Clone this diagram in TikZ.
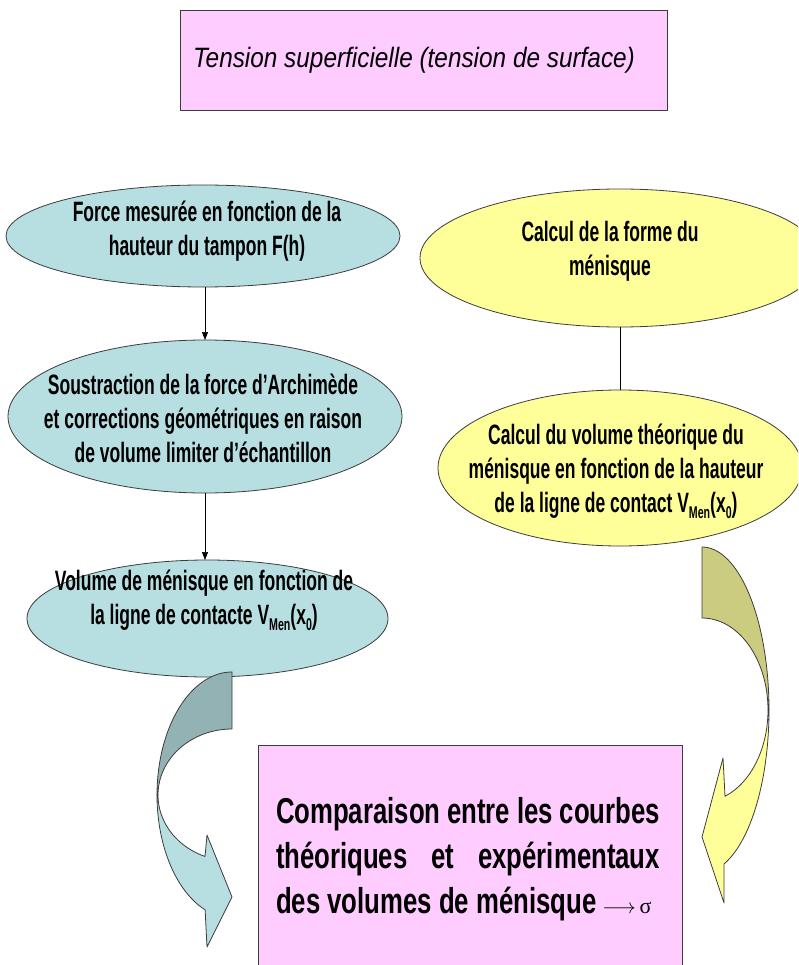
\documentclass[tikz,border=0pt]{standalone}
\usepackage{fontspec}
\usetikzlibrary{shapes.geometric,arrows.meta}
\newfontfamily\ellfont[FakeStretch=0.625]{Liberation Sans}
\newfontfamily\ttlfont[FakeStretch=0.87]{Liberation Sans}
\newfontfamily\cmpfont[FakeStretch=0.715]{Liberation Sans}
\newfontfamily\symfont{Liberation Serif}
\definecolor{pinkbox}{RGB}{255,204,255}
\definecolor{tealell}{RGB}{183,222,225}
\definecolor{tealdark}{RGB}{147,178,180}
\definecolor{yellell}{RGB}{255,255,153}
\definecolor{olivearrow}{RGB}{204,204,128}
\definecolor{edgegray}{RGB}{60,60,60}
\newcommand\lowsub[1]{\raisebox{-6pt}{\fontsize{17}{17}\selectfont #1}}
\begin{document}
\begin{tikzpicture}[x=1pt,y=-1pt,
  boxstyle/.style={draw=edgegray, line width=0.8pt, fill=pinkbox, rectangle, inner sep=0pt, outer sep=0pt},
  ellbox/.style={draw=edgegray, line width=0.8pt, ellipse, inner sep=0pt, outer sep=0pt},
  elltext/.style={align=center, inner sep=0pt, font=\ellfont\bfseries\fontsize{28}{34}\selectfont},
  conn/.style={draw=black, line width=0.6pt},
  connarrow/.style={conn, -{Triangle[length=8pt,width=6pt]}},
  arrowedge/.style={draw=edgegray, line width=0.8pt, line join=round}
]
\clip (0,0) rectangle (798,965);
\useasboundingbox (0,0) rectangle (798,965);
\fill[white] (0,0) rectangle (798,965);

% boxes
\node[boxstyle, minimum width=487pt, minimum height=100pt] (title) at (423.5,60) {};
\node[boxstyle, minimum width=424pt, minimum height=230pt] (cmp) at (470,860) {};

% left ellipses
\node[ellbox, fill=tealell, minimum width=394pt, minimum height=102pt] (e1) at (203,236) {};
\node[ellbox, fill=tealell, minimum width=394pt, minimum height=153pt] (e2) at (205,416.5) {};
\node[ellbox, fill=tealell, minimum width=361pt, minimum height=117pt] (e3) at (207.5,618.5) {};
% right ellipses
\node[ellbox, fill=yellell, minimum width=400pt, minimum height=138pt] (r1) at (620,258) {};
\node[ellbox, fill=yellell, minimum width=364pt, minimum height=156pt] (r2) at (620,468) {};

% connectors
\draw[connarrow] (e1.south -| e2.north) -- (e2.north);
\draw[connarrow] (e2.south) -- (e2.south |- e3.north);
\draw[conn] (r1.south) -- (r2.north);

% left curved arrow
\draw[arrowedge, fill=tealdark]
  plot[domain=-90:-180, samples=40] ({232+75*cos(\x)},{795+123*sin(\x)})
  -- plot[domain=-180:-90, samples=40] ({232+74*cos(\x)},{795+66*sin(\x)}) -- cycle;
\draw[arrowedge, fill=tealell]
  plot[domain=180:111, samples=40] ({232+75*cos(\x)},{795+123*sin(\x)})
  -- (207,947) -- (232,897) -- (207,835)
  -- plot[domain=111.4:180, samples=40] ({232+74*cos(\x)},{795+66*sin(\x)}) -- cycle;

% right curved arrow
\draw[arrowedge, fill=olivearrow]
  plot[domain=-90:0, samples=40] ({702+67*cos(\x)},{710+163*sin(\x)})
  -- plot[domain=0:-90, samples=40] ({702+66*cos(\x)},{710+92*sin(\x)}) -- cycle;
\draw[arrowedge, fill=yellell]
  plot[domain=0:70.8, samples=40] ({702+67*cos(\x)},{710+163*sin(\x)})
  -- (724,903) -- (702,837) -- (723,758)
  -- plot[domain=69.6:0, samples=40] ({702+66*cos(\x)},{710+92*sin(\x)}) -- cycle;

% texts
\node[inner sep=0pt, font=\ttlfont\itshape\fontsize{28}{30}\selectfont] (ttitle) at (414,60) {Tension superficielle (tension de surface)};
\node[elltext] (te1) at (207,231) {Force mesurée en fonction de la\\hauteur du tampon F(h)};
\node[elltext] (te2) at (203,418) {Soustraction de la force d’Archimède\\et corrections géométriques en raison\\de volume limiter d’échantillon};
\node[elltext] (te3) at (204,600) {Volume de ménisque en fonction de\\la ligne de contacte V\lowsub{Men}(x\lowsub{0})};
\node[elltext] (tr1) at (610,251) {Calcul de la forme du\\ménisque};
\node[elltext] (tr2) at (616,471) {Calcul du volume théorique du\\ménisque en fonction de la hauteur\\de la ligne de contact V\lowsub{Men}(x\lowsub{0})};
\node[inner sep=0pt, font=\cmpfont\bfseries\fontsize{36}{45}\selectfont] (tcmp) at (468,859)
  {\parbox{384pt}{Comparaison entre les courbes\linebreak théoriques et expérimentaux\linebreak des volumes de ménisque\,{\mdseries\fontsize{22}{22}\selectfont$\longrightarrow$\,\symfont σ}}};
\end{tikzpicture}
\end{document}
